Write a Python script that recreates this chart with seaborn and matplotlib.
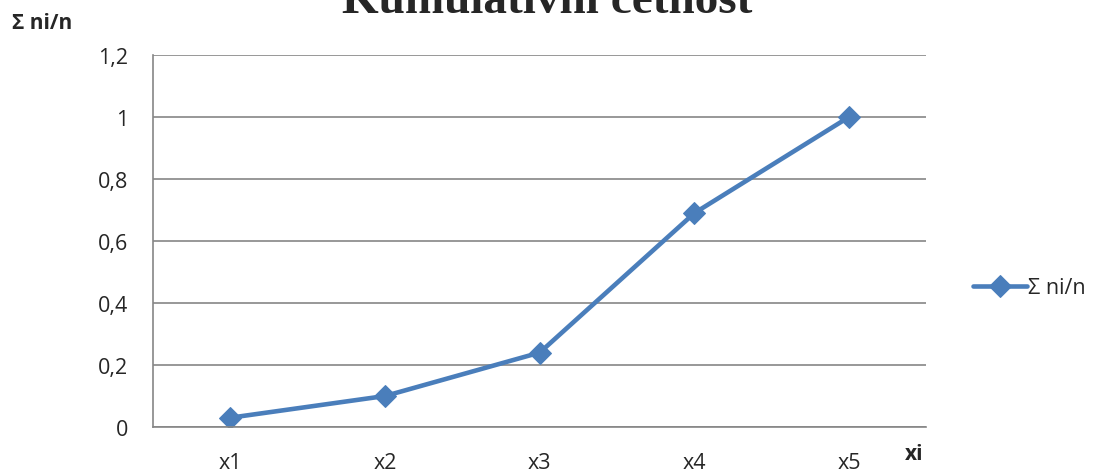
import matplotlib
matplotlib.use('Agg')
import matplotlib.pyplot as plt
import seaborn as sns
import pandas as pd

# Data
categories = ['x1', 'x2', 'x3', 'x4', 'x5']
cum_freq = [0.03, 0.10, 0.24, 0.69, 1.0]
y_ticks = [0, 0.2, 0.4, 0.6, 0.8, 1.0, 1.2]
y_labels = ['0', '0,2', '0,4', '0,6', '0,8', '1', '1,2']

df = pd.DataFrame({'xi': categories, 'val': cum_freq})

sns.set_style('white')
plt.rcParams['font.family'] = ['Open Sans', 'DejaVu Sans']

fig = plt.figure(figsize=(10.97, 4.77), dpi=100)
ax = fig.add_axes([0.1395, 0.1027, 0.7050, 0.780])

line_color = '#4A7EBB'
sns.lineplot(data=df, x='xi', y='val', ax=ax, color=line_color, linewidth=3.3,
             marker='D', markersize=11, markeredgecolor=line_color,
             label='\u03a3 ni/n', sort=False)

ax.set_xlim(-0.5, len(categories) - 0.5)
ax.set_ylim(0, 1.2)
ax.set_yticks(y_ticks)
ax.set_yticklabels(y_labels, fontsize=15.5)
ax.tick_params(axis='x', labelsize=15.5, length=0, pad=18)
ax.tick_params(axis='y', length=0, pad=18)
ax.yaxis.grid(True, color='#868686', linewidth=1.2)
ax.set_axisbelow(True)
for side in ['top', 'right']:
    ax.spines[side].set_visible(False)
for side in ['left', 'bottom']:
    ax.spines[side].set_color('#868686')
    ax.spines[side].set_linewidth(1.2)
ax.set_xlabel('')
ax.set_ylabel('')

# axis titles
fig.text(42 / 1097, 1 - 23.5 / 477, '\u03a3 ni/n', fontsize=15, fontweight='bold',
         ha='center', va='center')
fig.text(914 / 1097, 1 - 460 / 477, 'xi', fontsize=15, fontweight='bold',
         ha='center', va='baseline')

# chart title (clipped at the top in the reference)
fig.text(547 / 1097, 1 - 13 / 477, 'Kumulativn\u00ed \u010detnost', fontsize=34,
         fontweight='bold', family='Liberation Serif', ha='center', va='baseline')

leg = ax.legend(loc='center left', bbox_to_anchor=(962 / 1097, 1 - 289 / 477),
                bbox_transform=fig.transFigure, frameon=False, fontsize=15.5,
                handlelength=2.5, handletextpad=0.05, borderpad=0)

fig.savefig('out.png', dpi=100)
